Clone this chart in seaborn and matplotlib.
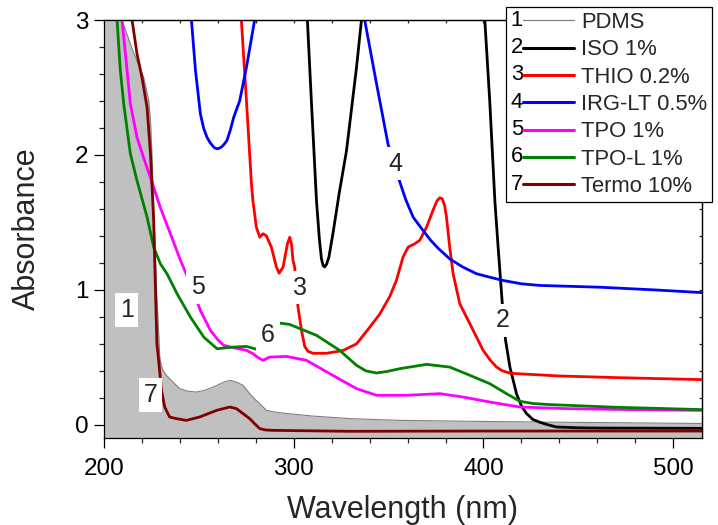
import numpy as np
import pandas as pd
import matplotlib
matplotlib.use("Agg")
import matplotlib.pyplot as plt
from matplotlib.ticker import MultipleLocator
from matplotlib.legend_handler import HandlerBase
from matplotlib.lines import Line2D
from matplotlib.text import Text
import seaborn as sns

# ---------------- data ----------------
pdms_x = [200, 209.5, 215, 220.9, 223.6, 224.5, 225.3, 226.5, 227.7, 228.6, 229.4, 230.2, 231.1,
          232.7, 234.6, 239.9, 244, 248.7, 253, 257.5, 263, 266.3, 269.8, 273.3, 276.8, 279.5,
          282.1, 285.6, 290, 294.4, 310, 329.5, 356, 400, 450, 515]
pdms_y = [3.6, 3.0, 2.78, 2.576, 2.40, 2.255, 2.0, 1.5, 1.0, 0.75, 0.502, 0.44, 0.404,
          0.37, 0.342, 0.268, 0.25, 0.243, 0.255, 0.28, 0.315, 0.33, 0.317, 0.293, 0.231, 0.19,
          0.157, 0.107, 0.095, 0.087, 0.065, 0.046, 0.033, 0.025, 0.018, 0.01]

iso_x = [300, 305.5, 307.2, 309.3, 312.0, 313.5, 314.6, 315.5, 316.3, 317.3, 318.5, 320.7, 324,
         327.8, 333.1, 335.7, 337, 370, 399.5, 400.7, 403.3, 406.0, 407.7, 409.8, 411.6, 413.9,
         417.4, 420, 422.7, 426, 429.7, 434, 438.5, 450, 461.3, 490, 515]
iso_y = [4.0, 3.4, 3.0, 2.4, 1.66, 1.38, 1.23, 1.18, 1.17, 1.19, 1.24, 1.42, 1.72,
         2.03, 2.65, 3.0, 3.2, 4.5, 3.3, 3.0, 2.40, 1.66, 1.32, 0.92, 0.63, 0.43,
         0.23, 0.14, 0.083, 0.04, 0.019, 0.0, -0.016, -0.022, -0.024, -0.025, -0.026]

thio_x = [270, 272.4, 275.1, 277.7, 278.5, 280.3, 282.1, 283.8, 285.6, 288.2, 290.9, 292.3, 294.4,
          296.7, 297.9, 298.8, 299.6, 300.5, 301.4, 302.3, 304.1, 305.8, 307.5, 310.2, 317.2,
          326.0, 333.1, 340.1, 345.3, 350.6, 354.1, 357.6, 360.3, 363.8, 366.4, 370.0, 373.4,
          375.5, 377.0, 378.3, 379.6, 380.5, 382.2, 384.0, 387.5, 392.8, 399.8, 403.5, 406.9,
          410, 413.9, 419.1, 440, 470, 500, 515]
thio_y = [3.5, 3.0, 2.40, 1.79, 1.66, 1.465, 1.39, 1.416, 1.40, 1.317, 1.169, 1.124, 1.169,
          1.342, 1.39, 1.342, 1.219, 1.169, 1.0, 0.868, 0.70, 0.58, 0.545, 0.53, 0.53,
          0.551, 0.60, 0.724, 0.82, 0.95, 1.07, 1.243, 1.317, 1.342, 1.367, 1.465, 1.59,
          1.66, 1.683, 1.675, 1.62, 1.54, 1.317, 1.12, 0.897, 0.75, 0.552, 0.48, 0.428,
          0.40, 0.383, 0.378, 0.362, 0.35, 0.34, 0.335]

irg_x = [245, 246.1, 248.2, 250.8, 252.5, 254.3, 256, 258, 259.4, 260.5, 262, 263.4, 264.8,
         266.5, 268.4, 271.5, 275.1, 279.4, 281, 300, 336, 337.4, 343.6, 349.7, 355.9, 359,
         362.9, 365.5, 368.2, 372, 376, 382.2, 389, 396.3, 403, 410.3, 420, 429.7, 461, 490, 515]
irg_y = [3.3, 3.0, 2.63, 2.305, 2.2, 2.13, 2.09, 2.055, 2.046, 2.048, 2.06, 2.08, 2.107,
         2.18, 2.28, 2.40, 2.65, 3.0, 3.2, 4.5, 3.1, 3.0, 2.53, 2.08, 1.80, 1.67,
         1.54, 1.49, 1.44, 1.37, 1.31, 1.23, 1.17, 1.12, 1.095, 1.07, 1.045, 1.033, 1.02, 1.0, 0.98]

tpo_x = [208, 209.5, 211.3, 213.9, 217.4, 220.9, 226.2, 229.7, 235.0, 240.3, 245.5, 250.8, 256.1,
         260, 263.1, 268.0, 275.1, 278.5, 281, 283.8, 287.3, 296.2, 306.7, 319.0, 333.1, 343.6,
         359.4, 377.0, 389.2, 403.3, 419.1, 443.8, 480, 515]
tpo_y = [3.3, 3.0, 2.75, 2.38, 2.13, 1.98, 1.76, 1.61, 1.416, 1.22, 1.046, 0.848, 0.70,
         0.63, 0.589, 0.572, 0.552, 0.527, 0.50, 0.478, 0.502, 0.507, 0.478, 0.379, 0.268, 0.219,
         0.219, 0.231, 0.206, 0.169, 0.132, 0.12, 0.112, 0.107]

tpol_x = [205, 206.9, 208.6, 210.4, 213.9, 217.4, 222.7, 226.2, 229.7, 233.2, 238.5, 245.5, 252.6,
          259.6, 268.0, 275.1, 281.2, 292.6, 297.9, 303.2, 312.0, 324.2, 333.1, 338, 343.6, 349,
          355.9, 370.0, 382.2, 392.8, 403.3, 412.1, 419.1, 426, 434.9, 470, 515]
tpol_y = [3.3, 3.0, 2.63, 2.38, 2.01, 1.81, 1.54, 1.317, 1.194, 1.12, 0.972, 0.80, 0.65,
          0.564, 0.576, 0.581, 0.557, 0.754, 0.744, 0.713, 0.663, 0.552, 0.441, 0.40, 0.384, 0.395,
          0.416, 0.448, 0.428, 0.367, 0.305, 0.231, 0.175, 0.158, 0.150, 0.13, 0.113]

termo_x = [212, 214.8, 217.4, 220.0, 222.7, 224.5, 226.2, 227.1, 227.9, 229.0, 230.3, 232.0, 234.6,
           238.2, 243.4, 250.4, 259.3, 266.3, 269.8, 273.3, 276.8, 280, 282.1, 285, 289.1, 329.5,
           400, 515]
termo_y = [3.3, 3.0, 2.75, 2.576, 2.354, 2.01, 1.515, 1.02, 0.6, 0.45, 0.256, 0.132, 0.058,
           0.046, 0.033, 0.058, 0.107, 0.132, 0.12, 0.083, 0.046, 0.0, -0.028, -0.038, -0.041,
           -0.048, -0.046, -0.046]

series_names = ["PDMS", "ISO 1%", "THIO 0.2%", "IRG-LT 0.5%", "TPO 1%", "TPO-L 1%", "Termo 10%"]
series_nums = ["1", "2", "3", "4", "5", "6", "7"]
series_colors = ["#808080", "#000000", "#ff0000", "#0000ff", "#ff00ff", "#008000", "#800000"]
series_lw = [0.8, 2.0, 2.0, 2.0, 2.0, 2.0, 2.0]

# curve annotation labels: number, x, y
label_nums = ["1", "7", "5", "3", "6", "4", "2"]
label_x = [212.0, 224.4, 249.4, 303.5, 286.5, 353.6, 410.3]
label_y = [0.85, 0.22, 1.02, 1.016, 0.663, 1.935, 0.774]

xs = [pdms_x, iso_x, thio_x, irg_x, tpo_x, tpol_x, termo_x]
ys = [pdms_y, iso_y, thio_y, irg_y, tpo_y, tpol_y, termo_y]

# ---------------- style ----------------
sns.set_theme(style="ticks")
plt.rcParams["font.family"] = ["Liberation Sans", "DejaVu Sans"]
plt.rcParams["axes.linewidth"] = 0.9
plt.rcParams["axes.edgecolor"] = "black"

fig = plt.figure(figsize=(7.18, 5.25), dpi=100)
ax = fig.add_axes([0.1448, 0.1651, 0.8325, 0.7968])

# PDMS filled area
ax.fill_between(pdms_x, pdms_y, -0.2, color="#c0c0c0", linewidth=0, zorder=1)

handles = []
for name, xv, yv, c, lw in zip(series_names, xs, ys, series_colors, series_lw):
    df = pd.DataFrame({"x": xv, "y": yv})
    sns.lineplot(data=df, x="x", y="y", ax=ax, color=c, linewidth=lw, label=name,
                 estimator=None, zorder=2)
    handles.append(ax.lines[-1])
for ln in handles:
    ln.set_solid_joinstyle("round")

ax.set_xlim(200, 515)
ax.set_ylim(-0.1, 3.0)
ax.xaxis.set_major_locator(MultipleLocator(100))
ax.xaxis.set_minor_locator(MultipleLocator(20))
ax.yaxis.set_major_locator(MultipleLocator(1))
ax.yaxis.set_minor_locator(MultipleLocator(0.2))
ax.tick_params(which="major", direction="out", length=7, width=0.9, labelsize=17.5,
               colors="black")
ax.tick_params(axis="x", which="major", pad=7)
ax.tick_params(axis="y", which="major", pad=4)
ax.tick_params(which="minor", direction="out", length=3.8, width=0.9)
ax.set_xlabel("Wavelength (nm)", fontsize=22, labelpad=11)
ax.set_ylabel("Absorbance", fontsize=22, labelpad=24)

# top/right inward ticks
top = ax.secondary_xaxis("top")
top.xaxis.set_major_locator(MultipleLocator(20))
top.tick_params(direction="in", length=2.5, width=0.9, labeltop=False)
right = ax.secondary_yaxis("right")
right.yaxis.set_major_locator(MultipleLocator(0.2))
right.tick_params(direction="in", length=2.5, width=0.9, labelright=False)

# curve number labels
for t, lx, ly in zip(label_nums, label_x, label_y):
    ax.text(lx, ly, t, fontsize=18, ha="center", va="center", zorder=5,
            bbox=dict(facecolor="white", edgecolor="none", pad=3.5))


class NumHandler(HandlerBase):
    def __init__(self, num):
        super().__init__()
        self.num = num

    def create_artists(self, legend, orig_handle, xdescent, ydescent, width, height,
                       fontsize, trans):
        y = (height - ydescent) / 2
        x0 = -xdescent
        txt = Text(x0, y, self.num, fontsize=fontsize, ha="left", va="center",
                   family=["Liberation Sans", "DejaVu Sans"], color="black")
        txt.set_transform(trans)
        ln = Line2D([x0 + 0.56 * fontsize, x0 + width], [y, y],
                    color=orig_handle.get_color(), linewidth=orig_handle.get_linewidth() * 1.1)
        ln.set_transform(trans)
        return [txt, ln]


leg = ax.legend(handles, series_names,
                handler_map={h: NumHandler(n) for h, n in zip(handles, series_nums)},
                loc="upper left", bbox_to_anchor=(506 / 718, 1 - 7 / 525),
                bbox_transform=fig.transFigure, frameon=True, fancybox=False,
                edgecolor="black", framealpha=1, fontsize=15.8, borderpad=0.22,
                labelspacing=0.29, handlelength=2.87, handletextpad=0.32, borderaxespad=0)
leg.get_frame().set_linewidth(0.9)
leg.set_zorder(10)

fig.savefig("out.png", dpi=100)
